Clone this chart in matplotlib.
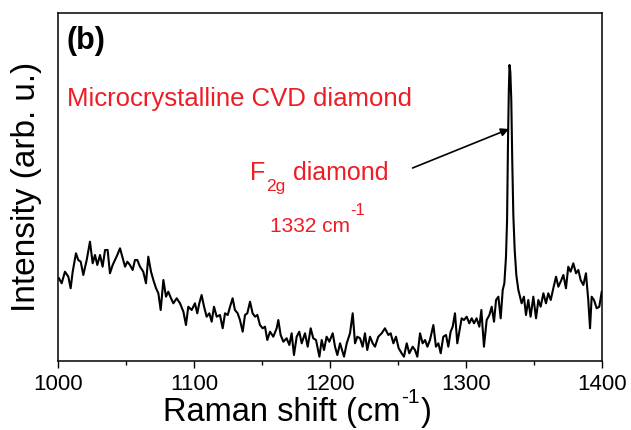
import matplotlib
matplotlib.use("Agg")
import matplotlib.pyplot as plt

# Raman spectrum of microcrystalline CVD diamond (arbitrary intensity units)
shift = [
    1000.7, 1002.7, 1005.1, 1007.6, 1009.3, 1010.8, 1013.2, 1014.9, 1016.7, 1018.6,
    1021.1, 1023.5, 1025.5, 1027.2, 1028.9, 1030.9, 1032.8, 1034.6, 1036.5, 1038.2,
    1040.2, 1041.9, 1043.6, 1045.6, 1047.6, 1049.3, 1051.0, 1052.9, 1054.9, 1056.6,
    1058.3, 1060.3, 1062.7, 1064.7, 1066.4, 1068.4, 1070.1, 1072.1, 1073.8, 1075.5,
    1077.5, 1079.4, 1081.1, 1083.1, 1084.8, 1087.3, 1089.7, 1092.2, 1094.1, 1095.8,
    1098.3, 1100.7, 1102.4, 1103.9, 1105.6, 1107.4, 1109.3, 1111.3, 1113.0, 1114.7,
    1116.7, 1119.1, 1121.1, 1122.8, 1124.8, 1126.5, 1128.4, 1130.1, 1132.1, 1133.8,
    1135.8, 1137.5, 1139.2, 1141.2, 1143.1, 1144.9, 1146.6, 1148.5, 1150.5, 1152.2,
    1153.9, 1155.9, 1158.3, 1160.8, 1162.0, 1163.7, 1165.7, 1168.1, 1170.1, 1171.8,
    1173.5, 1175.5, 1177.4, 1179.2, 1181.6, 1183.6, 1185.8, 1187.7, 1189.7, 1192.2,
    1193.9, 1195.6, 1197.5, 1199.5, 1202.0, 1203.7, 1205.4, 1207.4, 1210.3, 1212.3,
    1214.7, 1216.7, 1218.4, 1220.1, 1222.1, 1224.0, 1225.7, 1227.4, 1229.4, 1231.4,
    1233.1, 1235.5, 1238.0, 1240.4, 1242.9, 1244.6, 1246.6, 1248.5, 1250.5, 1252.7,
    1254.4, 1256.4, 1258.3, 1260.8, 1262.5, 1264.2, 1266.2, 1268.1, 1269.9, 1271.6,
    1273.5, 1276.0, 1277.9, 1279.7, 1281.4, 1283.3, 1285.3, 1287.0, 1288.7, 1290.2,
    1291.9, 1293.6, 1295.1, 1296.8, 1298.5, 1300.5, 1302.4, 1304.2, 1305.9, 1307.8,
    1309.8, 1311.3, 1313.2, 1315.2, 1317.2, 1318.9, 1320.6, 1322.1, 1323.8, 1325.5,
    1327.0, 1328.2, 1329.4, 1330.2, 1330.9, 1331.5, 1332.0, 1332.6, 1333.3, 1334.0,
    1334.8, 1335.8, 1337.0, 1338.5, 1340.9, 1342.6, 1344.1, 1345.8, 1347.5, 1349.5,
    1351.5, 1353.2, 1354.9, 1356.9, 1358.8, 1360.5, 1362.3, 1364.2, 1366.2, 1367.9,
    1369.6, 1371.6, 1373.5, 1375.2, 1376.9, 1378.9, 1380.9, 1382.6, 1384.3, 1386.3,
    1388.2, 1389.9, 1391.2, 1392.4, 1394.1, 1396.1, 1398.0, 1399.8,
]
intensity = [
    82.7, 77.7, 89.3, 84.3, 72.7, 89.3, 107.7, 101.0, 99.3, 86.0,
    101.0, 119.3, 97.7, 106.0, 96.0, 106.0, 94.3, 111.0, 111.0, 87.7,
    96.0, 101.0, 106.0, 112.7, 102.7, 94.3, 99.3, 96.0, 91.0, 101.0,
    101.0, 94.3, 89.3, 77.7, 104.3, 89.3, 81.0, 72.7, 67.7, 51.0,
    81.0, 64.3, 69.3, 62.7, 57.7, 62.7, 57.7, 49.3, 36.0, 54.3,
    51.0, 57.7, 47.7, 57.7, 66.0, 54.3, 44.3, 47.7, 39.3, 54.3,
    44.3, 46.0, 32.7, 47.7, 46.0, 54.3, 62.7, 51.0, 47.7, 41.0,
    29.3, 46.0, 47.7, 59.3, 47.7, 44.3, 46.0, 36.0, 32.7, 34.3,
    21.0, 29.3, 24.3, 32.7, 41.0, 26.0, 19.3, 22.7, 16.0, 27.7,
    6.0, 24.3, 29.3, 17.7, 27.7, 14.3, 32.7, 22.7, 21.0, 4.3,
    21.0, 11.0, 24.3, 19.3, 27.7, 14.3, 6.0, 17.7, 4.3, 17.7,
    27.7, 47.7, 17.7, 24.3, 22.7, 14.3, 27.7, 11.0, 24.3, 17.7,
    14.3, 24.3, 27.7, 32.7, 26.0, 27.7, 17.7, 24.3, 12.7, 7.7,
    4.3, 17.7, 7.7, 14.3, 11.0, 4.3, 27.7, 17.7, 21.0, 14.3,
    21.0, 36.0, 14.3, 17.7, 7.7, 24.3, 26.0, 14.3, 29.3, 34.3,
    47.7, 17.7, 29.3, 42.7, 41.0, 44.3, 37.7, 42.7, 37.7, 42.7,
    34.3, 51.0, 14.3, 41.0, 46.0, 54.3, 39.3, 61.0, 64.3, 42.7,
    71.0, 77.7, 104.0, 141.0, 221.0, 271.0, 296.0, 289.0, 261.0, 201.0,
    146.0, 111.0, 86.0, 71.0, 57.7, 64.3, 46.0, 61.0, 44.3, 64.3,
    42.7, 61.0, 54.3, 67.7, 57.7, 67.7, 61.0, 72.7, 84.3, 74.3,
    79.3, 86.0, 72.7, 94.3, 89.3, 97.7, 87.7, 91.0, 81.0, 76.0,
    87.7, 61.0, 32.7, 64.3, 61.0, 52.7, 54.3, 69.3,
]

x_ticks = [1000, 1100, 1200, 1300, 1400]
red = "#ee1c25"

plt.rcParams["font.family"] = ["Liberation Sans", "DejaVu Sans"]

W, H = 631, 430
fig = plt.figure(figsize=(W / 100, H / 100), dpi=100)
ax = fig.add_axes([58 / W, 1 - 361 / H, 544 / W, 348 / H])

ax.plot(shift, intensity, color="black", lw=1.5)

ax.set_xlim(1000, 1400)
ax.set_ylim(0, 348)
ax.set_xticks(x_ticks)
ax.set_xticklabels([str(t) for t in x_ticks])
ax.set_xticks([1050, 1150, 1250, 1350], minor=True)
ax.set_yticks([])
ax.tick_params(axis="x", which="major", direction="out", length=5, width=1,
               labelsize=16, pad=4)
ax.tick_params(axis="x", which="minor", direction="out", length=3, width=1)
for s in ax.spines.values():
    s.set_linewidth(1.1)

fig.canvas.draw()
renderer = fig.canvas.get_renderer()


def run_text(x0, pieces, color="black", gap=1):
    """Lay out (text, fontsize, baseline_px_from_top) pieces left to right."""
    x = x0
    for txt, size, base in pieces:
        t = fig.text(x / W, 1 - base / H, txt, fontsize=size, color=color,
                     va="baseline", ha="left")
        x = t.get_window_extent(renderer).x1 + gap


run_text(163, [("Raman shift (cm", 23.5, 421), ("-1", 15, 403), (")", 23.5, 421)])

fig.text(27 / W, 1 - 187 / H, "Intensity (arb. u.)", rotation=90,
         ha="center", va="center", fontsize=24)

fig.text(67 / W, 1 - 49 / H, "(b)", fontsize=22, fontweight="bold",
         va="baseline")
ax.text(0.016, 1 - (99 - 13) / 348, "Microcrystalline CVD diamond",
        transform=ax.transAxes, color=red, fontsize=18.5, va="center")

run_text(250, [("F", 18, 180), ("2g", 12.5, 191), (" diamond", 18, 180)],
         color=red, gap=0.5)
run_text(270, [("1332 cm", 15, 232), ("-1", 12, 215)], color=red, gap=0.5)

ax.annotate("", xy=(1331.7, 361 - 129), xytext=(1260.7, 361 - 168),
            arrowprops=dict(arrowstyle="-|>", color="black", lw=1.2,
                            mutation_scale=12, shrinkA=0, shrinkB=0))

fig.savefig("out.png", dpi=100)
